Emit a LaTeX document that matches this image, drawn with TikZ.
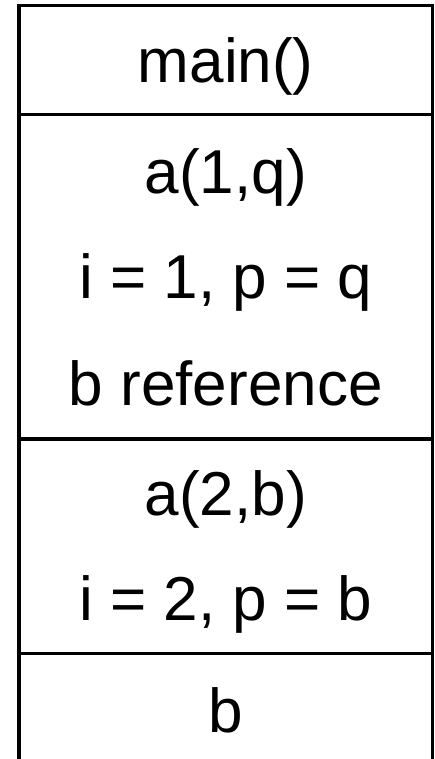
\documentclass[tikz,border=0pt]{standalone}
\usepackage{fontspec}
\setmainfont{Liberation Sans}
\usetikzlibrary{positioning}

\begin{document}
\begin{tikzpicture}[
  every node/.style={anchor=base,inner sep=0pt,font=\fontsize{35.3}{42}\selectfont},
  stackline/.style={line width=2.2pt,line join=miter}
]
  \useasboundingbox (0,0) rectangle (8.7,-15.18);

  % outline of the stack, open at the bottom
  \draw[stackline] (0.38,-15.18) -- (0.38,-0.11) -- (8.65,-0.11) -- (8.65,-15.18);

  % frame dividers
  \draw[stackline] (0.38,-2.29)  -- (8.65,-2.29);
  \draw[stackline] (0.38,-8.78)  -- (8.65,-8.78);
  \draw[stackline] (0.38,-13.07) -- (8.65,-13.07);

  \node (main)   at (4.515,-1.64)  {main()};
  \node (a1call) at (4.515,-3.86)  {a(1,q)};
  \node (a1vars) at (4.515,-5.96)  {i = 1, p = q};
  \node (a1ref)  at (4.515,-8.10)  {b reference};
  \node (a2call) at (4.515,-10.30) {a(2,b)};
  \node (a2vars) at (4.515,-12.40) {i = 2, p = b};
  \node (bvar)   at (4.515,-14.64) {b};
\end{tikzpicture}
\end{document}
